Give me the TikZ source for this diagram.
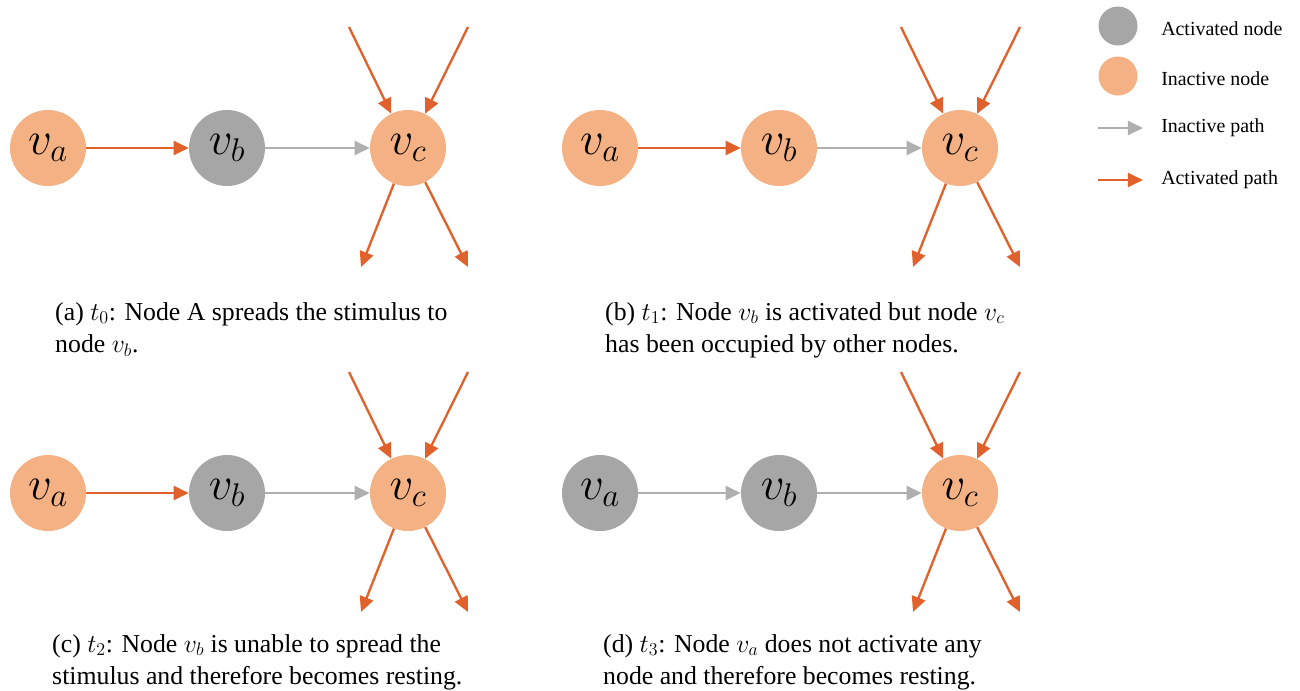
\documentclass[tikz,border=0pt]{standalone}
\usepackage{fix-cm}
\usepackage{fontspec}
\setmainfont{Liberation Serif}
\usetikzlibrary{arrows.meta}

\definecolor{idlefill}{HTML}{F4B183}
\definecolor{activefill}{HTML}{A6A6A6}
\definecolor{activeline}{HTML}{E0612B}
\definecolor{idleline}{HTML}{AFAFAF}

\begin{document}
\begin{tikzpicture}[x=0.03cm, y=-0.03cm, >={Triangle[length=13pt,width=12pt]},
                    line join=round,
                    every node/.style={font=\fontsize{22}{27.5}\selectfont},
                    vnode/.style={circle, minimum size=2.28cm, inner sep=0pt,
                                  font=\fontsize{40}{40}\selectfont},
                    idlenode/.style={vnode, fill=idlefill},
                    activenode/.style={vnode, fill=activefill},
                    activepath/.style={->, line width=2pt, draw=activeline, fill=activeline},
                    idlepath/.style={->, line width=2pt, draw=idleline, fill=idleline},
                    caption/.style={anchor=north west, align=left, inner sep=0pt},
                    legend/.style={anchor=west, inner sep=0pt,
                                   font=\fontsize{17}{18}\selectfont}]

  \useasboundingbox (0,0) rectangle (1300,690);

  %--- desplazamientos de los paneles (px) ---
  \def\dx{552}
  \def\dy{345}

  %--- panel (a): t0 ---
  \begin{scope}[name prefix=a-]
    \node[idlenode]   (va) at (48,148)  {$v_a$};
    \node[activenode] (vb) at (227,148) {$v_b$};
    \node[idlenode]   (vc) at (408,148) {$v_c$};
    \coordinate (in1) at (349,27);  \coordinate (in2) at (468,27);
    \coordinate (out1) at (361,267); \coordinate (out2) at (468,267);
    \draw[activepath] (va) -- (vb);
    \draw[idlepath] (vb) -- (vc);
    \path (in1) edge[activepath] (vc) (in2) edge[activepath] (vc)
          (vc) edge[activepath] (out1) edge[activepath] (out2);
  \end{scope}

  %--- panel (b): t1 ---
  \begin{scope}[shift={(\dx,0)}, name prefix=b-]
    \node[idlenode] (va) at (48,148)  {$v_a$};
    \node[idlenode] (vb) at (227,148) {$v_b$};
    \node[idlenode] (vc) at (408,148) {$v_c$};
    \coordinate (in1) at (349,27);  \coordinate (in2) at (468,27);
    \coordinate (out1) at (361,267); \coordinate (out2) at (468,267);
    \draw[activepath] (va) -- (vb);
    \draw[idlepath] (vb) -- (vc);
    \path (in1) edge[activepath] (vc) (in2) edge[activepath] (vc)
          (vc) edge[activepath] (out1) edge[activepath] (out2);
  \end{scope}

  %--- panel (c): t2 ---
  \begin{scope}[shift={(0,\dy)}, name prefix=c-]
    \node[idlenode]   (va) at (48,148)  {$v_a$};
    \node[activenode] (vb) at (227,148) {$v_b$};
    \node[idlenode]   (vc) at (408,148) {$v_c$};
    \coordinate (in1) at (349,27);  \coordinate (in2) at (468,27);
    \coordinate (out1) at (361,267); \coordinate (out2) at (468,267);
    \draw[activepath] (va) -- (vb);
    \draw[idlepath] (vb) -- (vc);
    \path (in1) edge[activepath] (vc) (in2) edge[activepath] (vc)
          (vc) edge[activepath] (out1) edge[activepath] (out2);
  \end{scope}

  %--- panel (d): t3 ---
  \begin{scope}[shift={(\dx,\dy)}, name prefix=d-]
    \node[activenode] (va) at (48,148)  {$v_a$};
    \node[activenode] (vb) at (227,148) {$v_b$};
    \node[idlenode]   (vc) at (408,148) {$v_c$};
    \coordinate (in1) at (349,27);  \coordinate (in2) at (468,27);
    \coordinate (out1) at (361,267); \coordinate (out2) at (468,267);
    \draw[idlepath] (va) -- (vb);
    \draw[idlepath] (vb) -- (vc);
    \path (in1) edge[activepath] (vc) (in2) edge[activepath] (vc)
          (vc) edge[activepath] (out1) edge[activepath] (out2);
  \end{scope}

  %--- leyendas de los paneles ---
  \node[caption] (capa) at (55,302)
      {(a) $t_0$: Node A spreads the stimulus to\\node $v_b$.};
  \node[caption] (capb) at (605,302)
      {(b) $t_1$: Node $v_b$ is activated but node $v_c$\\has been occupied by other nodes.};
  \node[caption] (capc) at (52,634)
      {(c) $t_2$: Node $v_b$ is unable to spread the\\stimulus and therefore becomes resting.};
  \node[caption] (capd) at (603,634)
      {(d) $t_3$: Node $v_a$ does not activate any\\node and therefore becomes resting.};

  %--- leyenda general ---
  \node[activenode, minimum size=1.17cm] (kact) at (1118,26) {};
  \node[idlenode, minimum size=1.17cm]   (kidle) at (1118,76) {};
  \coordinate (kis) at (1098,128); \coordinate (kie) at (1143,128);
  \coordinate (kas) at (1098,180); \coordinate (kae) at (1143,180);
  \draw[idlepath] (kis) -- (kie);
  \draw[activepath] (kas) -- (kae);
  \node[legend] (tact)  at (1161,29)  {Activated node};
  \node[legend] (tidle) at (1161,79)  {Inactive node};
  \node[legend] (tip)   at (1161,128) {Inactive path};
  \node[legend] (tap)   at (1161,180) {Activated path};

\end{tikzpicture}
\end{document}
